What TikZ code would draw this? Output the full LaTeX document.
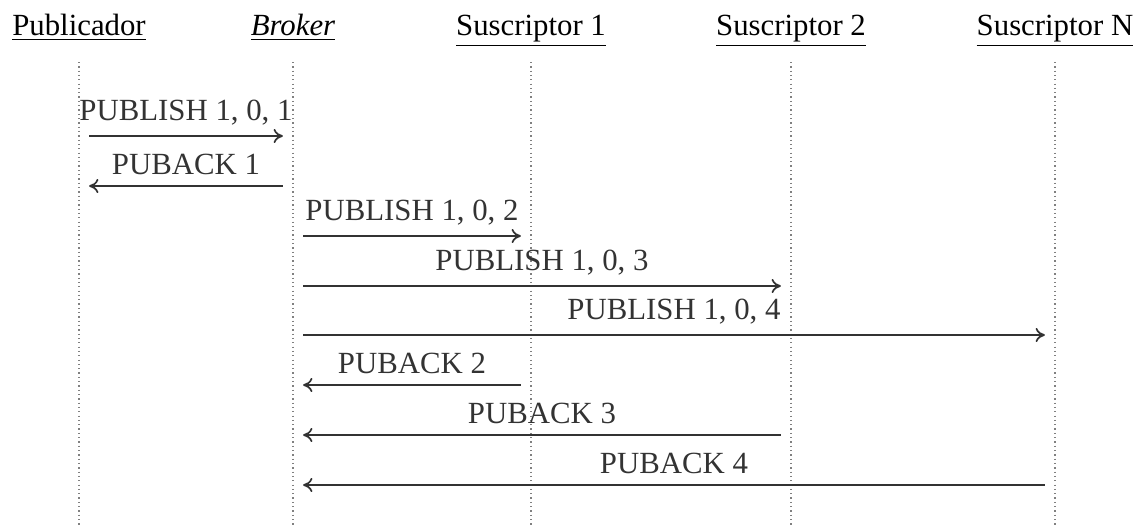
\documentclass[tikz,border=0pt]{standalone}
\usepackage{fontspec}
\setmainfont{Liberation Serif}
\usetikzlibrary{calc,arrows.meta}

\tikzset{
  actor/.style={anchor=base, inner sep=0pt},
  life/.style={densely dotted, gray},
  msg/.style={-{To[length=3pt,width=4.6pt]}, line width=0.55pt, black!80},
}

\begin{document}
\begin{tikzpicture}[x=0.3247pt,y=-0.3247pt]
  \useasboundingbox (0,0) rectangle (1142,529);
  % participants
  \node[actor] (pub) at (79,35) {\underline{Publicador}};
  \node[actor] (brk) at (293,35) {\underline{\textit{Broker}}};
  \node[actor] (s1) at (531,35) {\underline{Suscriptor 1}};
  \node[actor] (s2) at (791,35) {\underline{Suscriptor 2}};
  \node[actor] (sN) at (1055,35) {\underline{Suscriptor N}};
  % lifelines
  \foreach \n/\x in {pub/79,brk/293,s1/531,s2/791,sN/1055} {
    \coordinate (\n-top) at (\x,62);
    \coordinate (\n-bot) at (\x,525);
    \draw[life] (\n-top) -- (\n-bot);
  }
  % messages
  \foreach \i/\f/\t/\y/\txt in {1/pub/brk/136/{PUBLISH 1, 0, 1},
      2/brk/pub/186/{PUBACK 1},
      3/brk/s1/236/{PUBLISH 1, 0, 2},
      4/brk/s2/286/{PUBLISH 1, 0, 3},
      5/brk/sN/335/{PUBLISH 1, 0, 4},
      6/s1/brk/385/{PUBACK 2},
      7/s2/brk/435/{PUBACK 3},
      8/sN/brk/485/{PUBACK 4}} {
    \path ($(\f-top)+(0,\y-62)$) coordinate (m\i-f)
          ($(\t-top)+(0,\y-62)$) coordinate (m\i-t);
    \draw[msg] ($(m\i-f)!3.3pt!(m\i-t)$) -- node[above] {\txt} ($(m\i-t)!3.3pt!(m\i-f)$);
  }
\end{tikzpicture}
\end{document}
